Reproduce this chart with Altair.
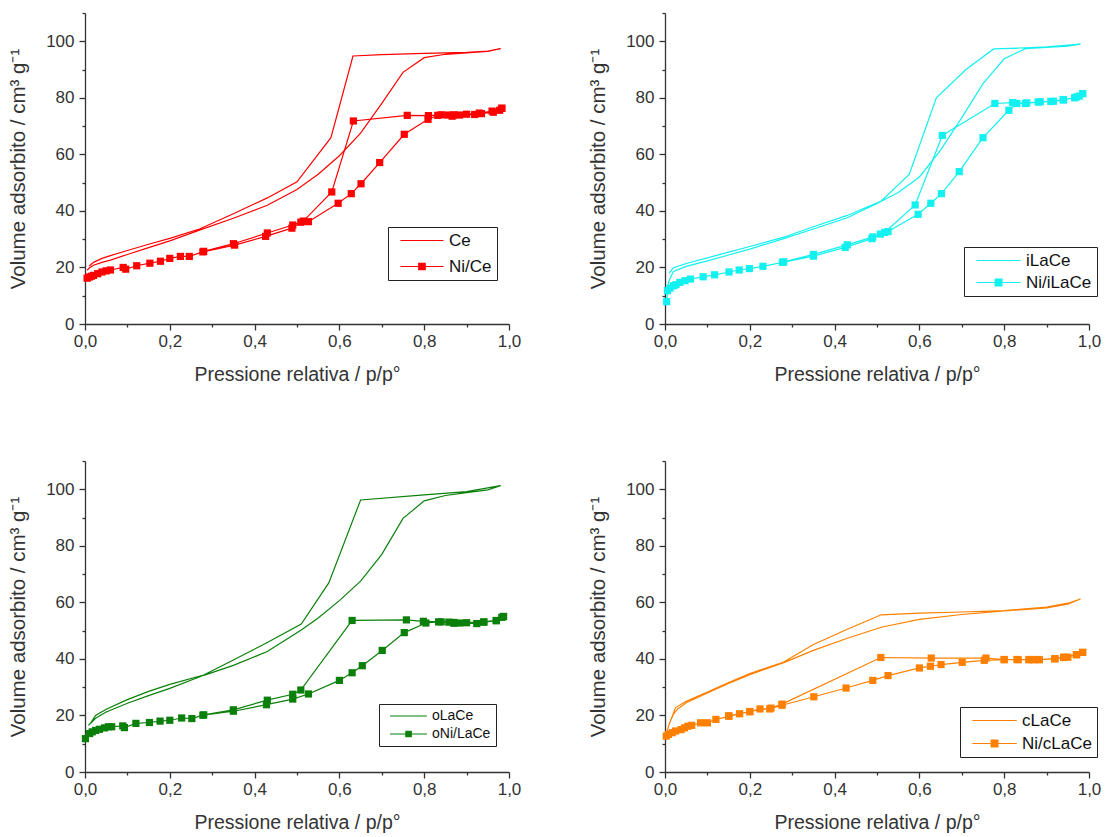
import altair as alt
import pandas as pd

FONT = "Liberation Sans"
AXIS_GREY = "#333333"

# ---------------- isotherm data (relative pressure, adsorbed volume) ----------------
# Ce
CE_ADS_P = [0.005, 0.01, 0.02, 0.04, 0.06, 0.1, 0.15, 0.2, 0.27, 0.35, 0.43, 0.5, 0.55, 0.6, 0.65, 0.7, 0.75, 0.8, 0.85, 0.9, 0.95, 0.98]
CE_ADS_V = [19.0, 19.8, 20.8, 21.8, 22.6, 24.6, 27.0, 29.4, 33.2, 37.4, 42.0, 47.6, 53.0, 59.5, 67.5, 78.0, 89.0, 94.2, 95.4, 95.9, 96.4, 97.4]
CE_DES_P = [0.98, 0.95, 0.9, 0.8, 0.7, 0.632, 0.58, 0.5, 0.43, 0.35, 0.27, 0.2, 0.15, 0.1, 0.06, 0.04, 0.02, 0.01]
CE_DES_V = [97.4, 96.5, 96.1, 95.7, 95.3, 94.8, 65.9, 50.3, 44.6, 39.0, 33.6, 30.3, 28.2, 26.0, 24.2, 23.2, 21.8, 20.5]

# Ni/Ce
NICE_ADS_P = [0.005, 0.01, 0.015, 0.02, 0.03, 0.04, 0.05, 0.06, 0.09, 0.096, 0.122, 0.153, 0.178, 0.2, 0.225, 0.246, 0.278, 0.353, 0.426, 0.488, 0.509, 0.527, 0.597, 0.628, 0.651, 0.695, 0.753, 0.809, 0.832, 0.856, 0.866, 0.883, 0.919, 0.935, 0.963, 0.978, 0.983]
NICE_ADS_V = [16.2, 16.6, 16.9, 17.2, 17.8, 18.4, 18.8, 19.1, 20.0, 19.4, 20.6, 21.5, 22.2, 23.2, 23.9, 23.9, 25.5, 27.9, 31.0, 33.9, 36.0, 36.2, 42.7, 46.1, 49.6, 57.1, 67.1, 72.4, 73.8, 73.9, 73.5, 73.9, 74.1, 74.4, 74.9, 75.6, 76.3]
NICE_DES_P = [0.983, 0.96, 0.93, 0.9, 0.87, 0.84, 0.81, 0.76, 0.633, 0.582, 0.515, 0.49, 0.43, 0.35, 0.28]
NICE_DES_V = [76.3, 75.3, 74.6, 74.2, 74.0, 74.0, 73.7, 73.8, 71.8, 46.7, 36.4, 35.0, 32.2, 28.4, 25.7]

# iLaCe
ILACE_ADS_P = [0.004, 0.01, 0.02, 0.05, 0.1, 0.15, 0.2, 0.28, 0.35, 0.43, 0.5, 0.55, 0.6, 0.65, 0.7, 0.75, 0.8, 0.85, 0.9, 0.95, 0.98]
ILACE_ADS_V = [11.5, 15.5, 18.6, 20.4, 22.3, 24.4, 26.5, 30.2, 33.6, 37.6, 42.6, 46.5, 52.0, 61.5, 73.0, 85.0, 93.8, 97.4, 97.8, 98.3, 99.0]
ILACE_DES_P = [0.98, 0.9, 0.85, 0.775, 0.71, 0.64, 0.576, 0.51, 0.43, 0.35, 0.28, 0.2, 0.15, 0.1, 0.05, 0.02, 0.01]
ILACE_DES_V = [99.0, 98.0, 97.7, 97.3, 90.0, 80.0, 52.9, 43.5, 38.4, 34.4, 30.7, 27.4, 25.4, 23.4, 21.4, 19.9, 18.0]

# Ni/iLaCe
NIILACE_ADS_P = [0.004, 0.006, 0.012, 0.02, 0.026, 0.035, 0.047, 0.06, 0.09, 0.117, 0.151, 0.175, 0.199, 0.231, 0.277, 0.35, 0.425, 0.488, 0.508, 0.526, 0.597, 0.627, 0.652, 0.694, 0.75, 0.811, 0.83, 0.853, 0.885, 0.916, 0.939, 0.966, 0.977, 0.985]
NIILACE_ADS_V = [7.9, 11.8, 12.7, 13.5, 13.9, 14.7, 15.3, 15.9, 16.7, 17.4, 18.4, 19.1, 19.6, 20.4, 21.8, 24.0, 27.1, 30.2, 31.8, 32.7, 38.8, 42.7, 46.1, 53.9, 65.9, 75.6, 78.0, 78.2, 78.6, 78.8, 79.4, 80.0, 80.6, 81.5]
NIILACE_DES_P = [0.985, 0.97, 0.94, 0.91, 0.88, 0.85, 0.82, 0.778, 0.654, 0.59, 0.518, 0.49, 0.43, 0.35, 0.28]
NIILACE_DES_V = [81.5, 80.3, 79.2, 78.7, 78.5, 78.0, 78.3, 78.0, 66.7, 42.1, 32.4, 30.8, 28.0, 24.6, 22.0]

# oLaCe
OLACE_ADS_P = [0.008, 0.015, 0.025, 0.05, 0.1, 0.15, 0.2, 0.28, 0.35, 0.43, 0.51, 0.55, 0.6, 0.65, 0.7, 0.75, 0.8, 0.85, 0.9, 0.95, 0.98]
OLACE_ADS_V = [16.5, 17.5, 19.0, 21.2, 24.3, 27.0, 29.6, 34.2, 37.7, 42.6, 50.2, 54.5, 60.6, 67.5, 77.0, 89.7, 95.9, 97.8, 98.8, 99.8, 101.3]
OLACE_DES_P = [0.98, 0.9, 0.8, 0.65, 0.575, 0.51, 0.43, 0.35, 0.28, 0.2, 0.15, 0.1, 0.05, 0.025, 0.012]
OLACE_DES_V = [101.3, 99.2, 98.0, 96.2, 66.9, 52.3, 45.8, 39.6, 34.3, 31.0, 28.5, 25.6, 22.2, 20.0, 17.0]

# oNi/LaCe
ONILACE_ADS_P = [0.001, 0.011, 0.017, 0.025, 0.034, 0.046, 0.055, 0.063, 0.089, 0.093, 0.12, 0.152, 0.177, 0.2, 0.228, 0.252, 0.278, 0.35, 0.428, 0.49, 0.527, 0.6, 0.63, 0.654, 0.701, 0.753, 0.804, 0.834, 0.858, 0.87, 0.884, 0.924, 0.941, 0.97, 0.983, 0.987]
ONILACE_ADS_V = [11.8, 13.6, 14.2, 14.7, 15.1, 15.6, 16.0, 16.0, 16.3, 15.7, 17.2, 17.5, 18.0, 18.3, 19.1, 18.9, 20.1, 21.5, 23.8, 25.8, 27.6, 32.4, 35.1, 37.6, 43.0, 49.3, 52.7, 53.1, 53.0, 52.6, 52.7, 52.5, 53.0, 53.5, 54.7, 55.0]
ONILACE_DES_P = [0.987, 0.97, 0.94, 0.9, 0.87, 0.84, 0.798, 0.758, 0.63, 0.509, 0.49, 0.43, 0.35, 0.28]
ONILACE_DES_V = [55.0, 53.6, 53.1, 52.8, 52.9, 53.1, 53.3, 53.8, 53.6, 29.0, 27.5, 25.4, 22.0, 20.2]

# cLaCe
CLACE_ADS_P = [0.003, 0.01, 0.02, 0.03, 0.05, 0.1, 0.15, 0.2, 0.28, 0.35, 0.43, 0.51, 0.6, 0.7, 0.8, 0.9, 0.95, 0.98]
CLACE_ADS_V = [13.5, 17.0, 20.5, 22.3, 24.5, 28.0, 31.3, 34.4, 38.7, 43.0, 47.3, 51.2, 54.0, 55.7, 57.0, 58.0, 59.4, 61.2]
CLACE_DES_P = [0.98, 0.95, 0.9, 0.8, 0.7, 0.6, 0.51, 0.43, 0.35, 0.28, 0.2, 0.15, 0.1, 0.05, 0.025, 0.01]
CLACE_DES_V = [61.2, 59.7, 58.3, 57.1, 56.6, 56.2, 55.6, 50.5, 45.1, 38.9, 34.8, 31.6, 28.3, 25.0, 22.8, 17.0]

# Ni/cLaCe
NICLACE_ADS_P = [0.003, 0.008, 0.017, 0.025, 0.038, 0.046, 0.054, 0.063, 0.084, 0.1, 0.12, 0.151, 0.176, 0.2, 0.224, 0.247, 0.276, 0.351, 0.427, 0.49, 0.526, 0.6, 0.626, 0.651, 0.701, 0.753, 0.8, 0.833, 0.858, 0.87, 0.883, 0.919, 0.941, 0.95, 0.971, 0.985]
NICLACE_ADS_V = [12.7, 13.3, 13.9, 14.5, 15.0, 15.6, 16.2, 16.5, 17.4, 17.4, 18.6, 19.7, 20.6, 21.3, 22.3, 22.3, 23.6, 26.6, 29.7, 32.4, 34.1, 36.8, 37.4, 38.0, 38.8, 39.5, 39.7, 39.7, 39.7, 39.7, 39.7, 40.0, 40.5, 40.6, 41.5, 42.3]
NICLACE_DES_P = [0.985, 0.97, 0.94, 0.92, 0.88, 0.86, 0.83, 0.8, 0.757, 0.628, 0.509, 0.276, 0.25, 0.2, 0.15]
NICLACE_DES_V = [42.3, 41.5, 40.6, 40.1, 39.8, 39.8, 39.8, 39.8, 40.3, 40.3, 40.5, 24.0, 22.6, 21.4, 19.9]

X_TICKS = [0.0, 0.1, 0.2, 0.3, 0.4, 0.5, 0.6, 0.7, 0.8, 0.9, 1.0]
Y_TICKS = [0, 10, 20, 30, 40, 50, 60, 70, 80, 90, 100, 110]

PLOT_W, PLOT_H = 424, 311

# legend glyphs, built from filled shapes: a thin bar, and a thin bar with a square on it
LEG_LINE = "M-0.15,-0.085H6V0.085H-0.15Z"
LEG_LINE_SQ = LEG_LINE + "M2.375,-0.55H3.475V0.55H2.375Z"


def isotherm(ads_p, ads_v, des_p, des_v, name):
    """Adsorption then desorption, in drawing order (one closed hysteresis path)."""
    p = list(ads_p) + list(des_p)
    v = list(ads_v) + list(des_v)
    return pd.DataFrame({"p": p, "v": v, "serie": name, "ordine": list(range(len(p)))})


def axis_style():
    return dict(
        grid=False,
        domainColor=AXIS_GREY, domainWidth=1.3,
        tickColor=AXIS_GREY, tickWidth=1.3,
        labelColor=AXIS_GREY, labelFont=FONT, labelFontSize=17,
        titleColor=AXIS_GREY, titleFont=FONT, titleFontWeight="normal",
        labelFlush=False,
    )


x_axis = alt.Axis(
    values=X_TICKS,
    labelExpr="round(datum.value*10) % 2 == 0 ? replace(format(datum.value, '.1f'), '.', ',') : ''",
    tickSize={"condition": {"test": "round(datum.value*10) % 2 == 0", "value": 6}, "value": 3},
    title="Pressione relativa / p/p°",
    titleFontSize=19.5,
    labelPadding=3,
    titlePadding=16,
    **axis_style(),
)
y_axis = alt.Axis(
    values=Y_TICKS,
    labelExpr="datum.value % 20 == 0 ? format(datum.value, 'd') : ''",
    tickSize={"condition": {"test": "datum.value % 20 == 0", "value": 6}, "value": 3},
    title="Volume adsorbito / cm³ g⁻¹",
    titleFontSize=20.5,
    labelPadding=5,
    titlePadding=17,
    **axis_style(),
)


def panel(color, ref_name, ni_name, ref_df, ni_df, leg_x, leg_y, leg_font, r, row_pad):
    x = alt.X("p:Q", scale=alt.Scale(domain=[0, 1], nice=False, zero=False), axis=x_axis)
    y = alt.Y("v:Q", scale=alt.Scale(domain=[0, 110], nice=False), axis=y_axis)

    ref_line = alt.Chart(ref_df).mark_line(color=color, strokeWidth=1.2).encode(
        x=x, y=y, order="ordine:Q")
    ni_line = alt.Chart(ni_df).mark_line(color=color, strokeWidth=1.2).encode(
        x=x, y=y, order="ordine:Q")
    ni_pts = alt.Chart(ni_df).mark_square(color=color, size=52, opacity=1).encode(x=x, y=y)

    legend = alt.Legend(
        title=None, orient="none", legendX=leg_x, legendY=leg_y,
        strokeColor="#222222", fillColor="white", padding=5,
        labelFont=FONT, labelFontSize=leg_font, labelColor="#111111",
        symbolSize=(2 * r) ** 2, labelOffset=5 * r + 4, rowPadding=row_pad,
        symbolOpacity=1, symbolFillColor=color,
    )
    key = alt.Chart(pd.concat([ref_df, ni_df])).transform_filter("false").mark_point(
        filled=True, color=color, opacity=1, strokeWidth=0
    ).encode(
        x=x, y=y,
        shape=alt.Shape("serie:N",
                        scale=alt.Scale(domain=[ref_name, ni_name], range=[LEG_LINE, LEG_LINE_SQ]),
                        legend=legend),
    )
    return alt.layer(ref_line, ni_line, ni_pts, key).properties(width=PLOT_W, height=PLOT_H)


RED, CYAN, GREEN, ORANGE = "#FF0000", "#12F0F0", "#0A800A", "#FF8000"

p_ce = panel(RED, "Ce", "Ni/Ce",
             isotherm(CE_ADS_P, CE_ADS_V, CE_DES_P, CE_DES_V, "Ce"),
             isotherm(NICE_ADS_P, NICE_ADS_V, NICE_DES_P, NICE_DES_V, "Ni/Ce"),
             303, 214, 17, 7, 8)
p_ilace = panel(CYAN, "iLaCe", "Ni/iLaCe",
                isotherm(ILACE_ADS_P, ILACE_ADS_V, ILACE_DES_P, ILACE_DES_V, "iLaCe"),
                isotherm(NIILACE_ADS_P, NIILACE_ADS_V, NIILACE_DES_P, NIILACE_DES_V, "Ni/iLaCe"),
                299, 234, 17, 7.2, 4)
p_olace = panel(GREEN, "oLaCe", "oNi/LaCe",
                isotherm(OLACE_ADS_P, OLACE_ADS_V, OLACE_DES_P, OLACE_DES_V, "oLaCe"),
                isotherm(ONILACE_ADS_P, ONILACE_ADS_V, ONILACE_DES_P, ONILACE_DES_V, "oNi/LaCe"),
                294, 243, 14, 6, 4)
p_clace = panel(ORANGE, "cLaCe", "Ni/cLaCe",
                isotherm(CLACE_ADS_P, CLACE_ADS_V, CLACE_DES_P, CLACE_DES_V, "cLaCe"),
                isotherm(NICLACE_ADS_P, NICLACE_ADS_V, NICLACE_DES_P, NICLACE_DES_V, "Ni/cLaCe"),
                295, 246, 17, 7.2, 5)

chart = alt.vconcat(
    alt.hconcat(p_ce, p_ilace, spacing=67).resolve_scale(shape="independent"),
    alt.hconcat(p_olace, p_clace, spacing=67).resolve_scale(shape="independent"),
    spacing=76,
).resolve_scale(shape="independent").properties(
    padding={"left": 8, "top": 12, "right": 2, "bottom": 2},
    background="white",
).configure_view(stroke=None)

chart.save("out.html", embed_options={"renderer": "svg", "actions": False})
